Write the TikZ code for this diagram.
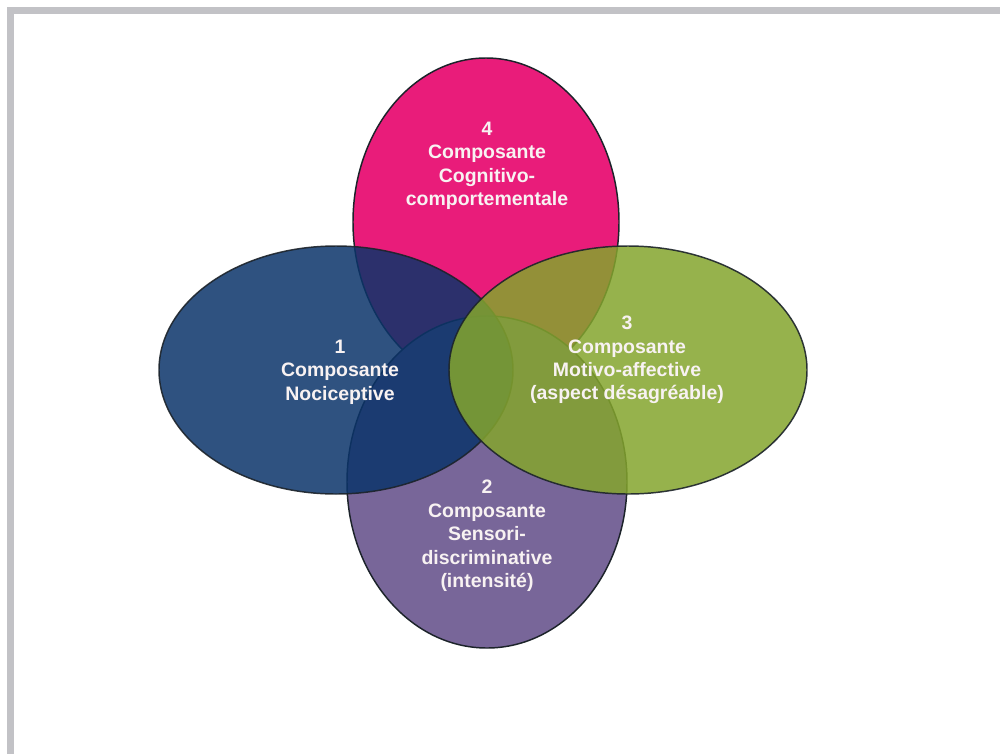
\documentclass[tikz,border=0pt]{standalone}
\usepackage{fontspec}
\setmainfont{Liberation Sans}
\definecolor{framegray}{HTML}{C2C2C6}
\definecolor{pinkfill}{HTML}{E91C7A}
\definecolor{purplefill}{HTML}{786699}
\definecolor{bluefill}{HTML}{0B346A}
\definecolor{greenfill}{HTML}{84A52D}
\definecolor{edgecol}{HTML}{1C232A}
\definecolor{txtcol}{HTML}{F8F2F2}
\begin{document}
\begin{tikzpicture}[x=0.75pt,y=-0.75pt,
  blob/.style={draw=edgecol, line width=1.1pt},
  seethru/.style={blob, fill opacity=0.85, draw opacity=0.9},
  lbl/.style={text=txtcol, align=center, inner sep=0pt,
    font=\bfseries\fontsize{14.6pt}{17.6pt}\selectfont}]
\useasboundingbox (0,0) rectangle (1000,754);
\fill[white] (0,0) rectangle (1000,754);
% frame
\fill[framegray] (7,7) rectangle (1000,14);
\fill[framegray] (7,7) rectangle (14,754);
% ellipses
\path[blob, fill=pinkfill] (486,222) ellipse [x radius=133, y radius=164];
\path[blob, fill=purplefill] (487,482) ellipse [x radius=140, y radius=166];
\path[seethru, fill=bluefill] (336,370) ellipse [x radius=177, y radius=124];
\path[seethru, fill=greenfill] (628,370) ellipse [x radius=179, y radius=124];
% labels
\node[lbl] (t4) at (487,166) {4\\Composante\\Cognitivo-\\comportementale};
\node[lbl] (t1) at (340,372) {1\\Composante\\Nociceptive};
\node[lbl] (t3) at (627,360) {3\\Composante\\Motivo-affective\\(aspect désagréable)};
\node[lbl] (t2) at (487,536) {2\\Composante\\Sensori-\\discriminative\\(intensité)};
\end{tikzpicture}
\end{document}
